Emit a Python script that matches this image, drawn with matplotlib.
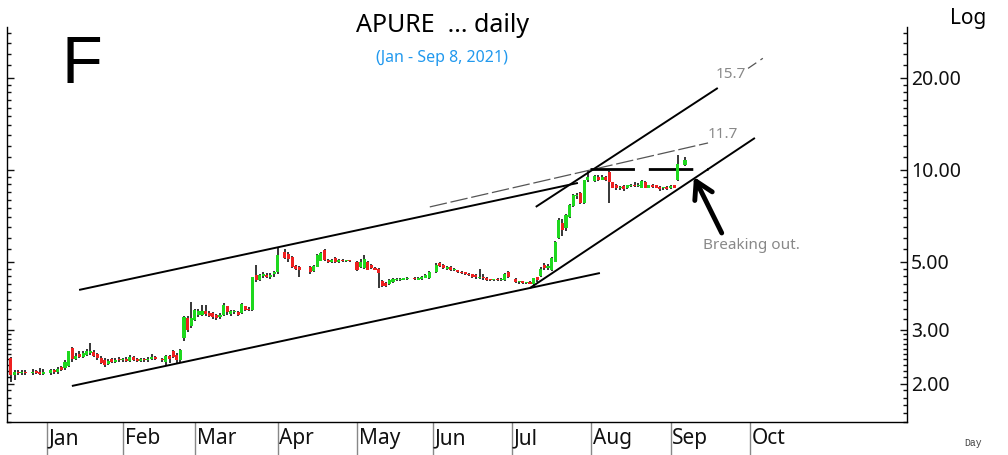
import numpy as np
import pandas as pd
import matplotlib
matplotlib.use("Agg")
import matplotlib.pyplot as plt
from matplotlib.ticker import FixedLocator, FormatStrFormatter, NullFormatter

plt.rcParams['font.family'] = ['Noto Sans', 'DejaVu Sans']

# daily bars as (open, high, low, close), one list per month
dec = [(2.43, 2.45, 2.02, 2.13), (2.14, 2.22, 2.05, 2.18), (2.19, 2.21, 2.13, 2.16),
       (2.16, 2.21, 2.14, 2.19), (2.19, 2.22, 2.14, 2.16), (2.16, 2.23, 2.14, 2.19),
       (2.20, 2.22, 2.15, 2.17), (2.19, 2.25, 2.13, 2.15), (2.15, 2.24, 2.13, 2.18)]
jan = [(2.16, 2.23, 2.13, 2.21), (2.22, 2.24, 2.15, 2.18), (2.19, 2.26, 2.15, 2.24),
       (2.27, 2.29, 2.20, 2.22), (2.25, 2.38, 2.22, 2.36), (2.28, 2.56, 2.26, 2.55),
       (2.61, 2.63, 2.36, 2.40), (2.40, 2.52, 2.38, 2.47), (2.50, 2.55, 2.42, 2.44),
       (2.45, 2.56, 2.42, 2.52), (2.48, 2.60, 2.46, 2.56), (2.52, 2.72, 2.48, 2.55),
       (2.54, 2.58, 2.45, 2.47), (2.50, 2.52, 2.38, 2.42), (2.43, 2.46, 2.32, 2.34),
       (2.38, 2.42, 2.27, 2.30), (2.32, 2.40, 2.30, 2.37), (2.40, 2.43, 2.33, 2.36),
       (2.36, 2.42, 2.34, 2.39), (2.40, 2.44, 2.35, 2.38)]
feb = [(2.38, 2.43, 2.35, 2.40), (2.41, 2.45, 2.35, 2.37), (2.37, 2.48, 2.36, 2.44),
       (2.44, 2.46, 2.37, 2.39), (2.40, 2.42, 2.35, 2.37), (2.37, 2.42, 2.35, 2.40),
       (2.40, 2.42, 2.36, 2.38), (2.38, 2.44, 2.36, 2.41), (2.40, 2.50, 2.38, 2.45),
       (2.44, 2.46, 2.38, 2.40), (2.41, 2.43, 2.36, 2.38), (2.36, 2.48, 2.30, 2.46),
       (2.46, 2.48, 2.33, 2.40), (2.55, 2.58, 2.42, 2.45), (2.48, 2.52, 2.33, 2.38),
       (2.38, 2.60, 2.36, 2.58), (2.82, 3.33, 2.76, 3.30), (3.28, 3.32, 2.95, 2.99),
       (3.08, 3.71, 3.05, 3.28)]
mar = [(3.23, 3.52, 3.20, 3.49), (3.36, 3.50, 3.30, 3.45), (3.36, 3.62, 3.33, 3.45),
       (3.45, 3.62, 3.34, 3.38), (3.40, 3.45, 3.30, 3.34), (3.40, 3.42, 3.26, 3.30),
       (3.36, 3.38, 3.23, 3.28), (3.30, 3.40, 3.26, 3.36), (3.36, 3.66, 3.33, 3.62),
       (3.58, 3.60, 3.36, 3.42), (3.38, 3.48, 3.33, 3.45), (3.42, 3.47, 3.38, 3.44),
       (3.44, 3.46, 3.32, 3.36), (3.40, 3.68, 3.38, 3.65), (3.58, 3.60, 3.46, 3.49),
       (3.52, 3.55, 3.45, 3.48), (3.48, 4.48, 3.46, 4.45), (4.52, 4.89, 4.30, 4.37),
       (4.38, 4.58, 4.32, 4.52), (4.50, 4.62, 4.42, 4.55), (4.52, 4.60, 4.42, 4.48),
       (4.45, 4.60, 4.40, 4.54), (4.55, 4.66, 4.45, 4.62)]
apr = [(4.62, 5.56, 4.58, 5.27), (5.40, 5.50, 5.10, 5.16), (5.30, 5.38, 5.00, 5.10),
       (5.20, 5.22, 4.78, 4.82), (4.85, 4.90, 4.70, 4.75), (4.82, 4.85, 4.47, 4.72),
       (4.80, 4.84, 4.58, 4.62), (4.66, 4.88, 4.62, 4.85), (4.82, 5.30, 4.80, 5.27),
       (5.05, 5.40, 5.02, 5.35), (5.47, 5.52, 5.05, 5.08), (5.08, 5.12, 4.95, 4.98),
       (4.98, 5.12, 4.95, 5.08), (5.15, 5.18, 4.96, 5.00), (5.00, 5.10, 4.97, 5.06),
       (5.06, 5.10, 4.98, 5.02), (5.03, 5.08, 5.00, 5.05), (5.05, 5.08, 5.00, 5.04)]
may = [(5.00, 5.02, 4.68, 4.71), (4.82, 5.12, 4.78, 5.00), (4.78, 5.25, 4.75, 5.13),
       (5.00, 5.05, 4.70, 4.72), (4.89, 4.92, 4.74, 4.78), (4.76, 4.80, 4.70, 4.72),
       (4.75, 4.78, 4.10, 4.60), (4.33, 4.36, 4.15, 4.18), (4.28, 4.30, 4.14, 4.18),
       (4.22, 4.40, 4.20, 4.37), (4.30, 4.42, 4.28, 4.40), (4.35, 4.42, 4.33, 4.39),
       (4.37, 4.43, 4.34, 4.40), (4.38, 4.44, 4.35, 4.41), (4.40, 4.45, 4.37, 4.42),
       (4.42, 4.46, 4.38, 4.40), (4.38, 4.47, 4.36, 4.44), (4.40, 4.49, 4.38, 4.46),
       (4.44, 4.55, 4.42, 4.52), (4.42, 4.68, 4.40, 4.65)]
jun = [(4.62, 4.95, 4.60, 4.89), (4.95, 5.00, 4.82, 4.85), (4.88, 4.92, 4.75, 4.78),
       (4.75, 4.85, 4.72, 4.82), (4.82, 4.84, 4.68, 4.70), (4.70, 4.78, 4.67, 4.75),
       (4.70, 4.72, 4.60, 4.62), (4.65, 4.68, 4.56, 4.60), (4.62, 4.64, 4.52, 4.55),
       (4.58, 4.60, 4.50, 4.52), (4.55, 4.57, 4.43, 4.46), (4.52, 4.55, 4.40, 4.45),
       (4.42, 4.75, 4.40, 4.47), (4.48, 4.55, 4.38, 4.42), (4.43, 4.45, 4.33, 4.36),
       (4.38, 4.41, 4.33, 4.36), (4.35, 4.41, 4.33, 4.38), (4.39, 4.42, 4.32, 4.35),
       (4.35, 4.43, 4.33, 4.40), (4.35, 4.60, 4.33, 4.58), (4.62, 4.66, 4.42, 4.45)]
jul = [(4.40, 4.42, 4.26, 4.30), (4.30, 4.34, 4.25, 4.32), (4.32, 4.34, 4.23, 4.26),
       (4.26, 4.31, 4.22, 4.28), (4.30, 4.32, 4.22, 4.25), (4.24, 4.44, 4.21, 4.42),
       (4.45, 4.48, 4.30, 4.37), (4.50, 4.80, 4.47, 4.75), (4.89, 4.95, 4.72, 4.78),
       (4.78, 4.92, 4.70, 4.86), (4.71, 5.20, 4.68, 5.15), (5.00, 5.85, 4.98, 5.80),
       (6.00, 6.95, 5.95, 6.86), (6.70, 6.90, 6.10, 6.36), (6.45, 7.20, 6.30, 7.12),
       (7.00, 7.75, 6.95, 7.68), (7.60, 8.35, 7.55, 8.28), (8.20, 8.40, 8.05, 8.25),
       (8.40, 8.50, 7.75, 7.80), (7.80, 9.30, 7.75, 9.27), (9.30, 10.0, 9.10, 9.50)]
aug = [(9.20, 9.65, 9.10, 9.55), (9.50, 9.60, 9.20, 9.30), (9.30, 9.60, 9.25, 9.50),
       (9.45, 9.55, 9.20, 9.30), (9.85, 9.90, 7.80, 9.10), (9.10, 9.15, 8.70, 8.75),
       (8.95, 9.00, 8.60, 8.70), (8.70, 8.85, 8.60, 8.80), (8.85, 8.90, 8.55, 8.65),
       (8.70, 8.95, 8.65, 8.90), (8.85, 9.00, 8.80, 8.95), (8.95, 9.10, 8.80, 8.85),
       (8.85, 9.05, 8.80, 8.95), (8.75, 9.25, 8.70, 9.20), (9.15, 9.20, 8.70, 8.75),
       (8.75, 8.95, 8.70, 8.90), (8.95, 9.00, 8.75, 8.80), (8.90, 8.95, 8.70, 8.75),
       (8.80, 8.85, 8.55, 8.65), (8.70, 8.80, 8.60, 8.75), (8.80, 8.85, 8.60, 8.65)]
sep = [(8.70, 8.95, 8.65, 8.85), (8.90, 8.95, 8.70, 8.75), (9.27, 11.2, 9.20, 10.5),
       (10.4, 11.05, 10.3, 10.75)]

# days without a bar (exchange holidays / no trading)
no_trade = ['2020-12-25', '2021-01-01', '2021-02-15', '2021-04-02', '2021-04-12',
            '2021-04-13', '2021-04-30', '2021-05-24', '2021-06-01', '2021-07-01',
            '2021-08-02', '2021-09-06']
first_day, last_day = '2020-12-18', '2021-09-07'

months = ['Jan', 'Feb', 'Mar', 'Apr', 'May', 'Jun', 'Jul', 'Aug', 'Sep', 'Oct']
month_starts = ['2021-01-01', '2021-02-01', '2021-03-01', '2021-04-01', '2021-05-01',
                '2021-06-01', '2021-07-01', '2021-08-01', '2021-09-01', '2021-10-01']
price_labels = [2, 3, 5, 10, 20]

# hand drawn lines: (weekday number counted from 2021-01-01, price)
upper_channel = [(8.9, 4.05), (147.3, 9.07)]
upper_extension = [(106.2, 7.57), (183.4, 12.26)]
steep_upper = [(135.6, 7.57), (186.1, 18.55)]
steep_upper_ext = [(194.5, 21.5), (198.6, 23.2)]
lower_channel = [(6.9, 1.964), (153.4, 4.60)]
steep_lower = [(134.0, 4.11), (196.4, 12.73)]
resistance = [(150.6, 10.08), (183.4, 10.08)]

origin = np.datetime64('2021-01-01', 'D')
days = pd.bdate_range(first_day, last_day, freq='C', holidays=no_trade)
x = np.busday_count(origin, days.values.astype('datetime64[D]'))
bars = np.array(dec + jan + feb + mar + apr + may + jun + jul + aug + sep)
assert len(bars) == len(x), (len(bars), len(x))
o, h, l, c = bars.T

fig = plt.figure(figsize=(10.08, 4.55), dpi=100)
ax = fig.add_axes([7 / 1008, 33 / 455, 900 / 1008, 395 / 455])
ax.set_yscale('log')

green, red = '#1ed81e', '#ee2020'
up = c >= o
top = np.maximum(o, c)
bot = np.minimum(o, c)
top = np.maximum(top, bot * 1.008)
ax.vlines(x, l, h, color='black', lw=1.1, zorder=2)
ax.bar(x[up], (top - bot)[up], bottom=bot[up], width=0.85, color=green, zorder=3)
ax.bar(x[~up], (top - bot)[~up], bottom=bot[~up], width=0.85, color=red, zorder=3)


def draw(seg, **kw):
    xs, ys = zip(*seg)
    ax.plot(xs, ys, solid_capstyle='butt', **kw)


draw(upper_channel, color='black', lw=1.4)
draw(lower_channel, color='black', lw=1.4)
draw(steep_upper, color='black', lw=1.4)
draw(steep_lower, color='black', lw=1.4)
draw(upper_extension, color='#555555', lw=0.9, ls=(0, (14, 3)))
draw(steep_upper_ext, color='#555555', lw=0.9, ls=(0, (8, 4)))
draw(resistance, color='black', lw=2, ls=(0, (16, 5)))

ax.text(steep_upper[1][0] - 0.5, 20.6, '15.7', color='#888888', fontsize=11, va='center')
ax.text(upper_extension[1][0], 13.1, '11.7', color='#888888', fontsize=11, va='center')
ax.text(182.0, 5.64, 'Breaking out.', color='#888888', fontsize=11, va='center')
ax.annotate('', xy=(179.5, 9.49), xytext=(187.2, 6.22),
            arrowprops=dict(arrowstyle='->,head_length=0.6,head_width=0.35',
                            color='black', lw=3.5, mutation_scale=20,
                            shrinkA=0, shrinkB=0))

ax.set_xlim(-11.1, 238.6)
ax.set_ylim(1.497, 29.37)

# price axis on both sides, labels on the right
ax.yaxis.set_major_locator(FixedLocator(price_labels))
ax.yaxis.set_major_formatter(FormatStrFormatter('%.2f'))
minor = np.concatenate([np.arange(1.5, 2, 0.1), np.arange(2, 3, 0.1), np.arange(3, 5, 0.25),
                        np.arange(5, 10, 0.5), np.arange(10, 20, 1), np.arange(20, 30, 2)])
ax.yaxis.set_minor_locator(FixedLocator(minor))
ax.yaxis.set_minor_formatter(NullFormatter())
ax.tick_params(axis='y', which='both', direction='in', left=True, right=True,
               labelleft=False, labelright=True, labelsize=14, pad=3, colors='#111111')
ax.tick_params(axis='y', which='major', length=5, width=1)
ax.tick_params(axis='y', which='minor', length=3, width=1)

# month separators below the chart
month_x = np.busday_count(origin, np.array(month_starts, dtype='datetime64[D]'))
ax.set_xticks(month_x)
ax.set_xticks([], minor=True)
ax.tick_params(axis='x', which='major', direction='out', length=24, width=1,
               color='#888888', labelbottom=False)
for mx, name in zip(month_x, months):
    ax.text(mx + 0.5, -0.043, name, transform=ax.get_xaxis_transform(),
            fontsize=15, va='center', ha='left', color='#111111')

ax.spines['top'].set_visible(False)
for s in ('left', 'right', 'bottom'):
    ax.spines[s].set_linewidth(1)
    ax.spines[s].set_color('black')

fig.text(0.4395, 0.945, 'APURE  ... daily', fontsize=18, ha='center', va='center')
fig.text(0.4385, 0.8725, '(Jan - Sep 8, 2021)', fontsize=11.5, ha='center', va='center',
         color='#2299ee')
fig.text(0.0615, 0.855, 'F', fontsize=48, ha='left', va='center', family='Liberation Sans')
fig.text(0.9425, 0.960, 'Log', fontsize=15, ha='left', va='center')
fig.text(0.957, 0.026, 'Day', fontsize=7, ha='left', va='center', family='Liberation Mono',
         color='#444444')

fig.savefig('out.png', dpi=100)
